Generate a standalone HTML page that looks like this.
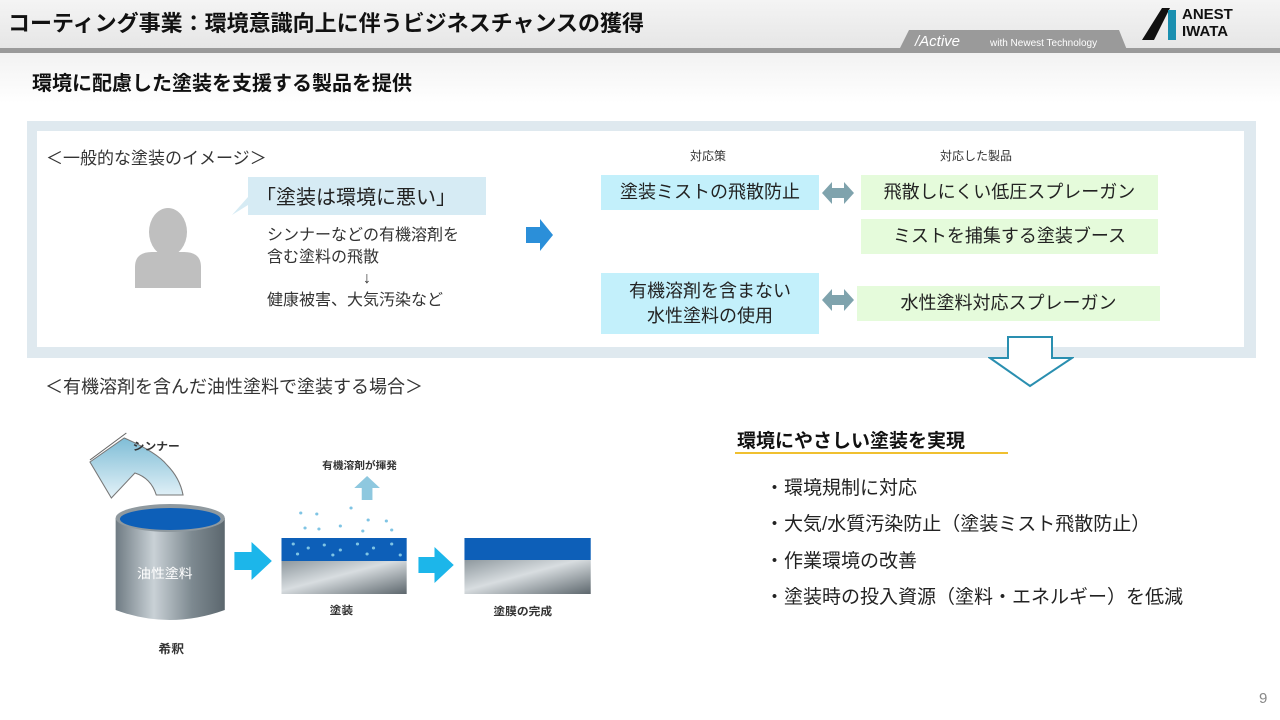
<!DOCTYPE html>
<html><head><meta charset="utf-8"><style>
*{margin:0;padding:0;box-sizing:border-box}
body{width:1280px;height:720px;position:relative;overflow:hidden;background:#fff;font-family:"Liberation Sans","Noto Sans CJK JP",sans-serif;color:#222}
.a{position:absolute;white-space:nowrap}
.box{position:absolute;display:flex;align-items:center;justify-content:center;text-align:center;font-size:18px;line-height:25px;color:#222}
.bl{background:#c3f0fb}.gr{background:#e5fbdb}
</style></head><body>
<div class="a" style="left:0;top:0;width:1280px;height:48px;background:linear-gradient(#f4f4f4,#e6e6e6)"></div>
<div class="a" style="left:0;top:48px;width:1280px;height:5px;background:#9a9a9a"></div>
<div class="a" style="left:0;top:53px;width:1280px;height:50px;background:linear-gradient(#f2f2f2,#fff)"></div>
<div class="a" style="left:8px;top:6px;font-size:22px;font-weight:bold;color:#111">コーティング事業：環境意識向上に伴うビジネスチャンスの獲得</div>
<svg class="a" style="left:895px;top:28px" width="240" height="22"><polygon points="14,2 224,2 232,22 4,22" fill="#9a9a9a"/><text x="20" y="18" font-size="15" fill="#fff" font-family="Liberation Sans" font-style="italic">/Active</text><text x="95" y="18" font-size="10" fill="#fff" font-family="Liberation Sans">with Newest Technology</text></svg>
<svg class="a" style="left:1140px;top:6px" width="40" height="36"><polygon points="2,34 22,2 30,2 14,34" fill="#111"/><rect x="28" y="4" width="8" height="30" fill="#1a8fb0"/></svg>
<div class="a" style="left:1182px;top:6px;font-size:15px;font-weight:bold;line-height:17px;color:#111">ANEST<br>IWATA</div>
<div class="a" style="left:32px;top:67px;font-size:20px;font-weight:bold;color:#111">環境に配慮した塗装を支援する製品を提供</div>

<div class="a" style="left:27px;top:121px;width:1229px;height:237px;background:#dfe9ef"></div>
<div class="a" style="left:37px;top:131px;width:1207px;height:216px;background:#fff"></div>
<div class="a" style="left:46px;top:144px;font-size:17px;color:#333">＜一般的な塗装のイメージ＞</div>
<svg class="a" style="left:130px;top:205px" width="80" height="85"><ellipse cx="38" cy="27" rx="19" ry="24" fill="#bfbfbf"/><path d="M5,83 L5,62 Q5,47 22,47 L54,47 Q71,47 71,62 L71,83 Z" fill="#bfbfbf"/></svg>
<svg class="a" style="left:228px;top:177px" width="260" height="40"><polygon points="20,0 258,0 258,38 20,38 20,28 4,38 20,20" fill="#d6ebf4"/></svg>
<div class="a" style="left:256px;top:181px;font-size:20px;color:#222">「塗装は環境に悪い」</div>
<div class="a" style="left:267px;top:225px;font-size:16px;line-height:21.5px;color:#333">シンナーなどの有機溶剤を<br>含む塗料の飛散<br><span style="padding-left:96px">↓</span><br>健康被害、大気汚染など</div>
<svg class="a" style="left:526px;top:219px" width="28" height="33"><polygon points="0,8 14,8 14,0 27,16 14,32 14,24 0,24" fill="#2b8fd9"/></svg>

<div class="a" style="left:690px;top:147px;font-size:12px;color:#333">対応策</div>
<div class="a" style="left:940px;top:147px;font-size:12px;color:#333">対応した製品</div>
<div class="box bl" style="left:601px;top:175px;width:218px;height:35px">塗装ミストの飛散防止</div>
<div class="box gr" style="left:861px;top:175px;width:297px;height:35px">飛散しにくい低圧スプレーガン</div>
<div class="box gr" style="left:861px;top:219px;width:297px;height:35px">ミストを捕集する塗装ブース</div>
<div class="box bl" style="left:601px;top:273px;width:218px;height:61px">有機溶剤を含まない<br>水性塗料の使用</div>
<div class="box gr" style="left:857px;top:286px;width:303px;height:35px">水性塗料対応スプレーガン</div>
<svg class="a" style="left:822px;top:180px" width="32" height="26"><polygon points="0,13 10,2 10,8 22,8 22,2 32,13 22,24 22,18 10,18 10,24" fill="#7fa3ad"/></svg>
<svg class="a" style="left:822px;top:287px" width="32" height="26"><polygon points="0,13 10,2 10,8 22,8 22,2 32,13 22,24 22,18 10,18 10,24" fill="#7fa3ad"/></svg>
<svg class="a" style="left:988px;top:336px" width="86" height="52"><polygon points="20,1 64,1 64,22 84,22 42,50 2,22 20,22" fill="#fff" stroke="#2a8fb0" stroke-width="2"/></svg>

<div class="a" style="left:45px;top:373px;font-size:18px;color:#333">＜有機溶剤を含んだ油性塗料で塗装する場合＞</div>

<svg class="a" style="left:60px;top:410px" width="600" height="260">
<defs>
<linearGradient id="cyl" x1="0" x2="1"><stop offset="0" stop-color="#6f7b83"/><stop offset=".35" stop-color="#c9d1d6"/><stop offset=".7" stop-color="#7d8990"/><stop offset="1" stop-color="#5c676e"/></linearGradient>
<linearGradient id="met" x1="0" y1="0" x2="1" y2="1"><stop offset="0" stop-color="#8e989e"/><stop offset=".45" stop-color="#d8dde0"/><stop offset="1" stop-color="#5d676d"/></linearGradient>
<linearGradient id="th" x1="0" y1="0" x2="0" y2="1"><stop offset="0" stop-color="#7fbdd6"/><stop offset="1" stop-color="#e4f2f8"/></linearGradient>
</defs>
<g transform="scale(1.07,1)">
<path d="M28,52 L60,28 Q90,42 100,55 Q112,68 115,85 L90,85 Q85,68 70,63 L48,88 Z" fill="url(#th)" stroke="#777" stroke-width="1"/>
<line x1="28" y1="50" x2="62" y2="23" stroke="#666"/>
<text x="68" y="40" font-size="11" font-weight="bold" fill="#333">シンナー</text>
<path d="M52,108 L52,200 Q102,220 154,200 L154,108 Z" fill="url(#cyl)"/>
<ellipse cx="103" cy="108" rx="51" ry="14" fill="#8f999f"/>
<ellipse cx="103" cy="109" rx="47" ry="11" fill="#0d5fb8"/>
<text x="72" y="168" font-size="13" fill="#fff">油性塗料</text>
<text x="92" y="243" font-size="12" font-weight="bold" fill="#333">希釈</text>
<polygon points="163,142 179,142 179,132 198,151 179,170 179,160 163,160" fill="#1cb6ea"/>
<rect x="207" y="128" width="117" height="23" fill="#0d5fb8"/>
<rect x="207" y="151" width="117" height="33" fill="url(#met)"/>
<g fill="#7fc4e4"><circle cx="218" cy="134" r="1.5"/><circle cx="232" cy="138" r="1.5"/><circle cx="247" cy="135" r="1.5"/><circle cx="262" cy="140" r="1.5"/><circle cx="278" cy="134" r="1.5"/><circle cx="293" cy="138" r="1.5"/><circle cx="310" cy="134" r="1.5"/><circle cx="222" cy="144" r="1.5"/><circle cx="255" cy="145" r="1.5"/><circle cx="287" cy="144" r="1.5"/><circle cx="318" cy="145" r="1.5"/>
<circle cx="225" cy="103" r="1.5"/><circle cx="240" cy="104" r="1.5"/><circle cx="288" cy="110" r="1.5"/><circle cx="305" cy="111" r="1.5"/><circle cx="229" cy="118" r="1.5"/><circle cx="242" cy="119" r="1.5"/><circle cx="262" cy="116" r="1.5"/><circle cx="283" cy="121" r="1.5"/><circle cx="310" cy="120" r="1.5"/><circle cx="272" cy="98" r="1.5"/></g>
<polygon points="282,90 282,78 275,78 287,66 299,78 292,78 292,90" fill="#8ec8df"/>
<text x="245" y="59" font-size="10" font-weight="bold" fill="#333">有機溶剤が揮発</text>
<text x="252" y="204" font-size="11" font-weight="bold" fill="#333">塗装</text>
<polygon points="335,147 350,147 350,137 368,155 350,173 350,163 335,163" fill="#1cb6ea"/>
<rect x="378" y="128" width="118" height="22" fill="#0d5fb8"/>
<rect x="378" y="150" width="118" height="34" fill="url(#met)"/>
<text x="405" y="205" font-size="11" font-weight="bold" fill="#333">塗膜の完成</text>
</g>
</svg>

<div class="a" style="left:737px;top:426px;font-size:19px;font-weight:bold;color:#111">環境にやさしい塗装を実現</div>
<div class="a" style="left:735px;top:452px;width:273px;height:2px;background:#f0c030"></div>
<div class="a" style="left:765px;top:471px;font-size:19px;line-height:36.3px;color:#222">・環境規制に対応<br>・大気/水質汚染防止（塗装ミスト飛散防止）<br>・作業環境の改善<br>・塗装時の投入資源（塗料・エネルギー）を低減</div>
<div class="a" style="left:1259px;top:690px;font-size:15px;color:#888">9</div>
</body></html>
